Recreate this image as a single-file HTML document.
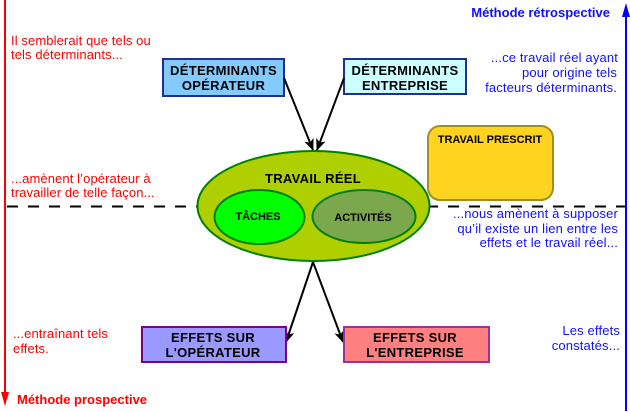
<!DOCTYPE html>
<html><head><meta charset="utf-8"><style>
html,body{margin:0;padding:0;background:#fff;}
svg{display:block;}
text{font-family:"Liberation Sans",Arial,sans-serif;}
</style></head><body>
<svg width="630" height="412" viewBox="0 0 630 412" xmlns="http://www.w3.org/2000/svg">
<defs>
<marker id="ah" markerWidth="12" markerHeight="10" refX="11" refY="5" orient="auto" markerUnits="userSpaceOnUse">
<path d="M0,0 L12,5 L0,10 L3,5 Z" fill="#000"/>
</marker>
</defs>
<!-- dashed line -->
<line x1="7" y1="206.5" x2="625" y2="206.5" stroke="#000" stroke-width="2" stroke-dasharray="11,10"/>
<!-- red axis -->
<line x1="5" y1="0" x2="5" y2="395" stroke="#ff0000" stroke-width="2"/>
<path d="M1,392 L9,392 L5,406 Z" fill="#ff0000"/>
<!-- blue axis -->
<line x1="626" y1="14" x2="626" y2="411" stroke="#0000ff" stroke-width="2"/>
<path d="M622,17 L630,17 L626,3 Z" fill="#0000ff"/>

<!-- red texts -->
<g fill="#ff0000" font-size="13" letter-spacing="0.1">
<text x="11" y="45">Il semblerait que tels ou</text>
<text x="11" y="59">tels déterminants...</text>
<text x="11" y="183">...amènent l’opérateur à</text>
<text x="11" y="197">travailler de telle façon...</text>
<text x="13" y="338">...entraînant tels</text>
<text x="13" y="353">effets.</text>
<text x="17" y="404" font-weight="bold" letter-spacing="0">Méthode prospective</text>
</g>
<!-- blue texts -->
<g fill="#1010ff" font-size="13" text-anchor="end" letter-spacing="0.15">
<text x="610" y="17" font-weight="bold" letter-spacing="0">Méthode rétrospective</text>
<text x="618" y="62">...ce travail réel ayant</text>
<text x="617" y="77">pour origine tels</text>
<text x="617" y="92">facteurs déterminants.</text>
<text x="618" y="218">...nous amènent à supposer</text>
<text x="618" y="233">qu’il existe un lien entre les</text>
<text x="618" y="247">effets et le travail réel...</text>
<text x="620" y="335">Les effets</text>
<text x="620" y="350">constatés...</text>
</g>

<!-- determinant boxes -->
<rect x="163" y="59" width="121" height="37" fill="#83caff" stroke="#1f2f99" stroke-width="2"/>
<text x="223.5" y="75" font-size="13" font-weight="bold" text-anchor="middle" letter-spacing="0.3">DÉTERMINANTS</text>
<text x="223.5" y="90" font-size="13" font-weight="bold" text-anchor="middle" letter-spacing="0.3">OPÉRATEUR</text>
<rect x="344" y="59" width="122" height="35" fill="#ccffff" stroke="#1f2f99" stroke-width="2"/>
<text x="405" y="75" font-size="13" font-weight="bold" text-anchor="middle" letter-spacing="0.3">DÉTERMINANTS</text>
<text x="405" y="90" font-size="13" font-weight="bold" text-anchor="middle" letter-spacing="0.3">ENTREPRISE</text>

<!-- arrows top -->
<line x1="284" y1="78" x2="313" y2="150" stroke="#000" stroke-width="2" marker-end="url(#ah)"/>
<line x1="344" y1="78" x2="317" y2="150" stroke="#000" stroke-width="2" marker-end="url(#ah)"/>

<!-- travail prescrit -->
<rect x="428" y="126" width="125" height="74" rx="12" ry="12" fill="#ffd320" stroke="#9c9020" stroke-width="2"/>
<text x="490" y="143" font-size="11" font-weight="bold" text-anchor="middle">TRAVAIL PRESCRIT</text>

<!-- travail reel ellipse -->
<ellipse cx="313.5" cy="206" rx="116" ry="55" fill="#afcf00" stroke="#008000" stroke-width="2"/>
<text x="313" y="183" font-size="13" font-weight="bold" text-anchor="middle" letter-spacing="0.3">TRAVAIL RÉEL</text>
<ellipse cx="259.5" cy="217" rx="45" ry="27" fill="#00ff00" stroke="#008000" stroke-width="2"/>
<text x="258" y="220" font-size="11" font-weight="bold" text-anchor="middle">TÂCHES</text>
<ellipse cx="364" cy="216.5" rx="51.5" ry="26.5" fill="#7ba84c" stroke="#008000" stroke-width="2"/>
<text x="363" y="221" font-size="11" font-weight="bold" text-anchor="middle">ACTIVITÉS</text>

<!-- arrows bottom -->
<line x1="313" y1="262" x2="286" y2="342" stroke="#000" stroke-width="2" marker-end="url(#ah)"/>
<line x1="313" y1="262" x2="343" y2="342" stroke="#000" stroke-width="2" marker-end="url(#ah)"/>

<!-- effets boxes -->
<rect x="142" y="327" width="144" height="35" fill="#9999ff" stroke="#800080" stroke-width="2"/>
<text x="213" y="342" font-size="13" font-weight="bold" text-anchor="middle" letter-spacing="0.3">EFFETS SUR</text>
<text x="213" y="357" font-size="13" font-weight="bold" text-anchor="middle" letter-spacing="0.3">L'OPÉRATEUR</text>
<rect x="344" y="327" width="145" height="35" fill="#ff8080" stroke="#993399" stroke-width="2"/>
<text x="415" y="342" font-size="13" font-weight="bold" text-anchor="middle" letter-spacing="0.3">EFFETS SUR</text>
<text x="415" y="357" font-size="13" font-weight="bold" text-anchor="middle" letter-spacing="0.3">L'ENTREPRISE</text>
</svg>
</body></html>
